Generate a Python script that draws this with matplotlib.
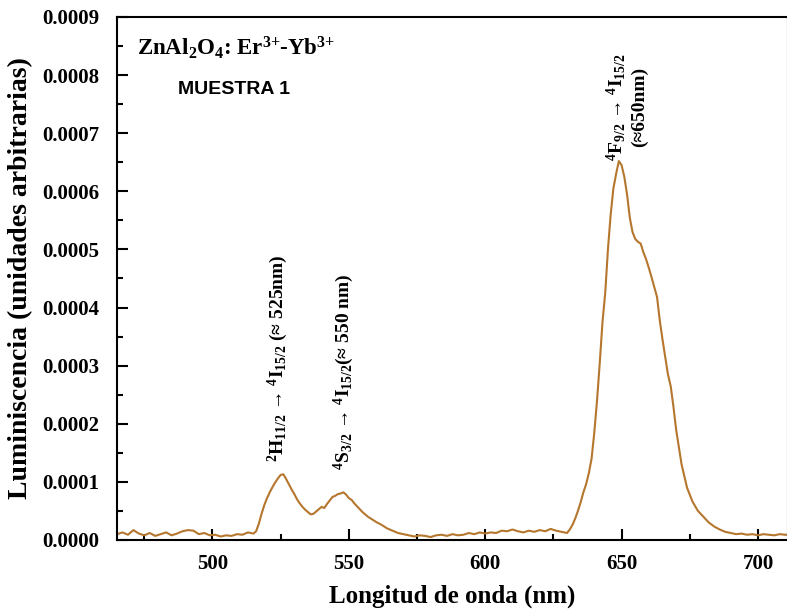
import numpy as np
import matplotlib
matplotlib.use("Agg")
import matplotlib.pyplot as plt
from matplotlib.ticker import MultipleLocator, FormatStrFormatter

plt.rcParams['font.family'] = ['Liberation Serif', 'DejaVu Serif']
plt.rcParams['font.weight'] = 'bold'
plt.rcParams['mathtext.default'] = 'regular'

# wavelength (nm) and luminescence (x1e-5 a.u.)
wavelength = [465, 467, 469, 471, 473, 475, 477, 479, 481, 483, 485, 487, 489, 491, 493, 495, 497, 499,
              501, 503, 505, 507, 509, 511, 513, 515, 516, 517, 518, 519, 520, 521, 522, 523, 524, 525,
              526, 527, 528, 529, 530, 531, 532, 533, 534, 535, 536, 537, 538, 539, 540, 541, 542, 543,
              544, 545, 546, 547, 548, 549, 550, 551, 552, 553, 554, 555, 556, 557, 558, 559, 560, 562,
              564, 566, 568, 570, 572, 574, 576, 578, 580, 582, 584, 586, 588, 590, 592, 594, 596, 598,
              600, 602, 604, 606, 608, 610, 612, 614, 616, 618, 620, 622, 624, 626, 628, 630, 631, 632,
              633, 634, 635, 636, 637, 638, 639, 640, 641, 642, 643, 644, 645, 646, 647, 648, 649, 650,
              651, 652, 653, 654, 655, 656, 657, 658, 659, 660, 661, 662, 663, 664, 665, 666, 667, 668,
              669, 670, 671, 672, 673, 674, 675, 676, 677, 678, 680, 682, 684, 686, 688, 690, 692, 694,
              696, 698, 700, 702, 704, 706, 708, 710, 711]
lum_e5 = [1.0, 1.3, 0.9, 1.7, 1.1, 0.8, 1.2, 0.7, 1.0, 1.3, 0.8, 1.1, 1.5, 1.7, 1.6, 1.0, 1.2, 0.8,
          0.9, 0.6, 0.8, 0.7, 1.0, 0.9, 1.3, 1.1, 1.5, 2.8, 4.5, 6.0, 7.2, 8.2, 9.1, 9.9, 10.6, 11.2,
          11.3, 10.5, 9.6, 8.7, 7.9, 7.0, 6.3, 5.7, 5.2, 4.8, 4.4, 4.5, 4.9, 5.3, 5.7, 5.5, 6.2, 6.8,
          7.4, 7.6, 7.9, 8.0, 8.2, 7.8, 7.2, 6.9, 6.3, 5.8, 5.3, 4.8, 4.4, 4.0, 3.7, 3.4, 3.1, 2.6,
          2.0, 1.6, 1.2, 1.0, 0.8, 0.6, 0.8, 0.7, 0.5, 0.8, 0.9, 0.7, 1.0, 0.8, 0.9, 1.2, 1.0, 1.3,
          1.1, 1.3, 1.2, 1.6, 1.5, 1.8, 1.5, 1.3, 1.6, 1.4, 1.7, 1.5, 1.9, 1.6, 1.4, 1.2, 1.8, 2.6,
          3.7, 5.0, 6.5, 8.2, 9.6, 11.5, 14.0, 18.5, 24.0, 30.5, 37.5, 42.5, 50.0, 56.0, 60.5, 63.0, 65.2, 64.5,
          62.5, 59.5, 55.5, 53.0, 51.8, 51.3, 51.0, 49.5, 48.3, 46.8, 45.2, 43.5, 41.8, 37.8, 34.5, 31.5, 28.5, 26.5,
          23.0, 19.0, 16.0, 13.0, 11.0, 9.0, 7.8, 6.6, 5.8, 5.0, 4.0, 3.0, 2.3, 1.8, 1.4, 1.2, 1.0, 1.1,
          0.9, 1.0, 0.8, 1.0, 0.9, 0.8, 1.0, 0.9, 0.9]

x = np.array(wavelength)
y = np.array(lum_e5) * 1e-5

fig = plt.figure(figsize=(7.87, 6.10), dpi=100)
ax = fig.add_axes([0.1487, 0.1148, 0.8525, 0.8574])
ax.plot(x, y, color='#b5762e', lw=1.5)

ax.set_xlim(465, 711)
ax.set_ylim(0, 0.0009)
ax.xaxis.set_major_locator(MultipleLocator(50))
ax.xaxis.set_minor_locator(MultipleLocator(25))
ax.yaxis.set_major_locator(MultipleLocator(0.0001))
ax.yaxis.set_minor_locator(MultipleLocator(0.00005))
ax.yaxis.set_major_formatter(FormatStrFormatter('%.4f'))
ax.tick_params(which='both', direction='in', labelsize=15, width=1.5)
ax.tick_params(which='major', length=8, pad=10)
ax.tick_params(axis='y', which='major', pad=13)
ax.tick_params(which='minor', length=4)
for s in ax.spines.values():
    s.set_linewidth(1.5)

ax.set_xlabel('Longitud de onda (nm)', fontsize=18, fontweight='bold', labelpad=8)
ax.set_ylabel('Luminiscencia (unidades arbitrarias)', fontsize=20, fontweight='bold', labelpad=6)

ax.text(472.5, 0.000847, r'ZnAl$_2$O$_4$: Er$^{3{+}}$-Yb$^{3{+}}$', fontsize=16.5, va='center', ha='left')
ax.text(487.5, 0.000775, 'MUESTRA 1', fontsize=14, va='center', ha='left',
        family=['Liberation Sans', 'DejaVu Sans'], fontweight='bold')

ax.text(523.9, 0.000134, r'$^2$H$_{11/2}$ → $^4$I$_{15/2}$ (≈ 525nm)', rotation=90,
        fontsize=14, ha='center', va='bottom')
ax.text(548, 0.00012, r'$^4$S$_{3/2}$ → $^4$I$_{15/2}$(≈ 550 nm)', rotation=90,
        fontsize=14, ha='center', va='bottom')
ax.text(651.6, 0.000745, '$^4$F$_{9/2}$ → $^4$I$_{15/2}$\n(≈650nm)', rotation=90,
        fontsize=14, ha='center', va='center', multialignment='center')

fig.savefig('out.png', dpi=100)
